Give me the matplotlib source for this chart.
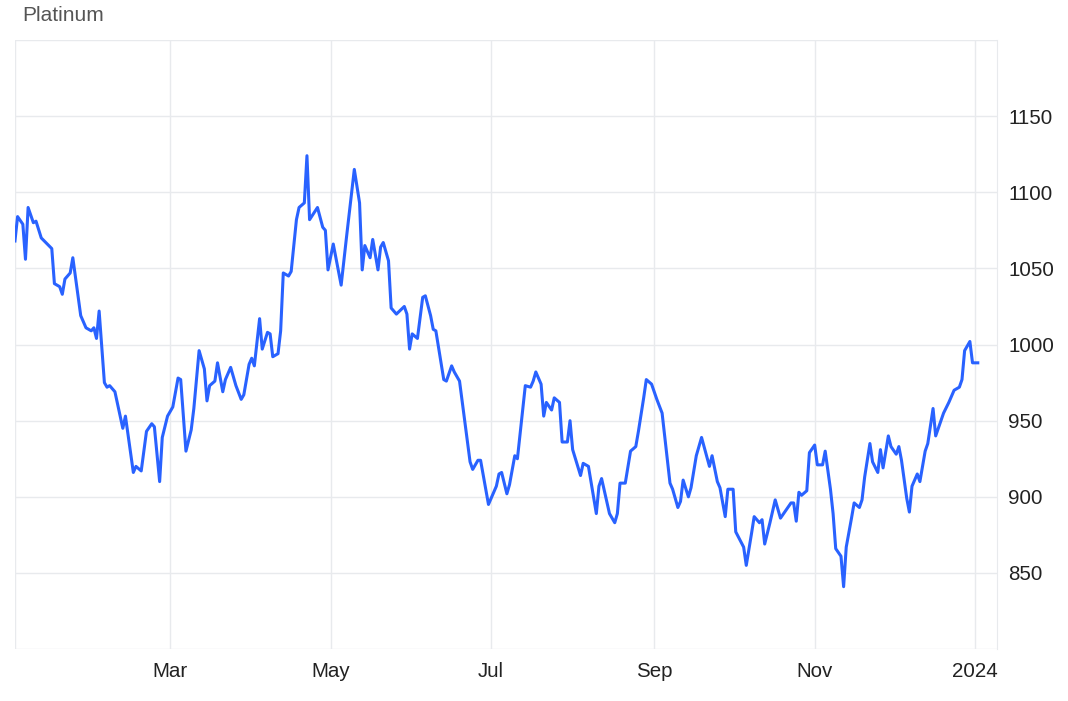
import matplotlib
matplotlib.use("Agg")
import matplotlib.pyplot as plt
import pandas as pd

plt.rcParams['font.family'] = ['Liberation Sans', 'DejaVu Sans']

# days since 2023-01-01 and platinum price (USD/oz)
start = pd.Timestamp("2023-01-01")
day_offsets = [
    0, 1, 3, 4, 5, 7, 8, 10, 14, 15, 17, 18, 19, 21, 22, 25, 27, 29, 30, 31,
    32, 34, 35, 36, 38, 41, 42, 45, 46, 48, 50, 52, 53, 55, 56, 58, 60, 62, 63, 65,
    67, 68, 70, 72, 73, 74, 76, 77, 79, 80, 82, 84, 86, 87, 89, 90, 91, 93, 94, 96,
    97, 98, 100, 101, 102, 104, 105, 107, 108, 110, 111, 112, 115, 117, 118, 119, 121, 124, 126, 128,
    129, 131, 132, 133, 135, 136, 138, 139, 140, 142, 143, 145, 148, 149, 150, 151, 153, 155, 156, 158,
    159, 160, 163, 164, 166, 167, 169, 173, 174, 176, 177, 180, 183, 184, 185, 187, 188, 190, 191, 194,
    196, 197, 198, 200, 201, 202, 204, 205, 207, 208, 210, 211, 212, 215, 216, 218, 221, 222, 223, 226,
    228, 229, 230, 232, 234, 236, 237, 239, 240, 242, 244, 246, 249, 250, 252, 253, 254, 256, 257, 259,
    261, 264, 265, 267, 268, 270, 271, 273, 274, 277, 278, 280, 281, 283, 284, 285, 287, 289, 291, 293,
    295, 296, 297, 298, 299, 301, 302, 304, 305, 307, 308, 310, 311, 312, 314, 315, 316, 318, 319, 321,
    322, 323, 325, 326, 328, 329, 330, 332, 333, 335, 336, 337, 339, 340, 341, 343, 344, 346, 347, 349,
    350, 351, 353, 355, 357, 359, 360, 361, 363, 364, 366,
]
prices = [
    1068, 1084, 1079, 1056, 1090, 1080, 1081, 1070, 1063, 1040, 1038, 1033, 1043, 1047, 1057, 1019, 1011, 1009, 1011, 1004,
    1022, 975, 972, 973, 969, 945, 953, 916, 920, 917, 943, 948, 946, 910, 939, 953, 959, 978, 977, 930,
    944, 958, 996, 984, 963, 973, 976, 988, 969, 977, 985, 973, 964, 967, 987, 991, 986, 1017, 997, 1008,
    1007, 992, 994, 1009, 1047, 1045, 1048, 1082, 1090, 1093, 1124, 1082, 1090, 1077, 1075, 1049, 1066, 1039, 1070, 1100,
    1115, 1093, 1049, 1065, 1057, 1069, 1049, 1064, 1067, 1055, 1024, 1020, 1025, 1020, 997, 1007, 1004, 1031, 1032, 1019,
    1010, 1009, 977, 976, 986, 982, 976, 923, 918, 924, 924, 895, 907, 915, 916, 902, 908, 927, 925, 973,
    972, 976, 982, 974, 953, 962, 957, 965, 962, 936, 936, 950, 931, 914, 922, 920, 889, 907, 912, 889,
    883, 889, 909, 909, 930, 933, 943, 965, 977, 974, 964, 955, 909, 905, 893, 897, 911, 900, 906, 927,
    939, 920, 927, 910, 906, 887, 905, 905, 877, 867, 855, 876, 887, 883, 885, 869, 883, 898, 886, 891,
    896, 896, 884, 903, 901, 904, 929, 934, 921, 921, 930, 905, 889, 866, 861, 841, 867, 886, 896, 893,
    898, 913, 935, 923, 916, 931, 919, 940, 933, 928, 933, 924, 899, 890, 907, 915, 910, 930, 935, 958,
    940, 945, 955, 962, 970, 972, 977, 996, 1002, 988, 988,
]
month_ticks = ["2023-01-01", "2023-03-01", "2023-05-01", "2023-07-01", "2023-09-01", "2023-11-01", "2024-01-01"]
month_labels = ["", "Mar", "May", "Jul", "Sep", "Nov", "2024"]
price_ticks = [800, 850, 900, 950, 1000, 1050, 1100, 1150, 1200]

dates = start + pd.to_timedelta(day_offsets, unit="D")
grid_col = "#e8eaed"

fig = plt.figure(figsize=(10.68, 7.01), dpi=100)
ax = fig.add_axes([0.014, 0.074, 0.9195, 0.869])
ax.plot(dates, prices, color="#2962ff", linewidth=2.2, solid_joinstyle="round")

ax.set_xlim(start, start + pd.Timedelta(days=373.3))
ax.set_ylim(800, 1200)
ax.set_xticks(pd.to_datetime(month_ticks))
ax.set_xticklabels(month_labels)
ax.set_yticks(price_ticks)
ax.set_yticklabels(["" if p in (800, 1200) else str(p) for p in price_ticks])
ax.yaxis.tick_right()
ax.tick_params(axis="both", length=0, labelsize=14.8, labelcolor="#222222")
ax.tick_params(axis="x", pad=9)
ax.tick_params(axis="y", pad=8)
ax.grid(True, color=grid_col, linewidth=1.0)
ax.set_axisbelow(True)
for side in ["left", "top", "bottom"]:
    ax.spines[side].set_visible(False)
ax.spines["right"].set_color(grid_col)

fig.text(0.021, 0.992, "Platinum", fontsize=15, color="#555555", va="top", ha="left")

fig.savefig("out.png", dpi=100, facecolor="white")
